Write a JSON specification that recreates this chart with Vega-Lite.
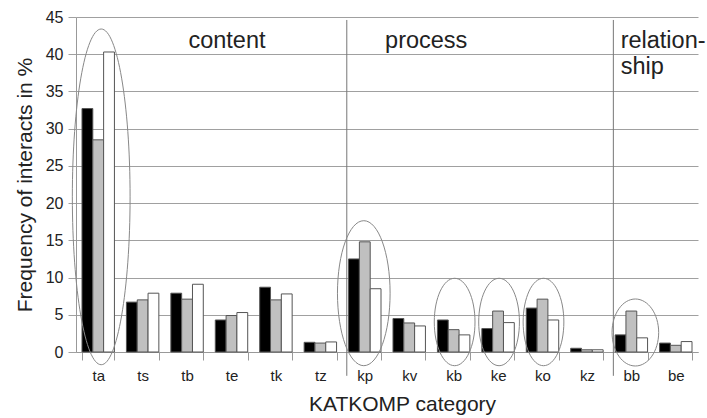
{
  "$schema": "https://vega.github.io/schema/vega-lite/v6.json",
  "autosize": "none",
  "width": 622,
  "height": 335,
  "padding": {"left": 76, "top": 17, "right": 9, "bottom": 66},
  "background": "white",
  "config": {
    "view": {"stroke": null},
    "font": "Liberation Sans",
    "axis": {"labelFont": "Liberation Sans", "titleFont": "Liberation Sans", "labelColor": "#222", "titleColor": "#222", "titleFontWeight": "normal"}
  },
  "datasets": {
    "bars": [
      {"cat": "ta", "group": "g1", "value": 32.7}, {"cat": "ta", "group": "g2", "value": 28.5}, {"cat": "ta", "group": "g3", "value": 40.3},
      {"cat": "ts", "group": "g1", "value": 6.7}, {"cat": "ts", "group": "g2", "value": 7.0}, {"cat": "ts", "group": "g3", "value": 7.9},
      {"cat": "tb", "group": "g1", "value": 7.9}, {"cat": "tb", "group": "g2", "value": 7.1}, {"cat": "tb", "group": "g3", "value": 9.1},
      {"cat": "te", "group": "g1", "value": 4.3}, {"cat": "te", "group": "g2", "value": 4.9}, {"cat": "te", "group": "g3", "value": 5.3},
      {"cat": "tk", "group": "g1", "value": 8.7}, {"cat": "tk", "group": "g2", "value": 7.0}, {"cat": "tk", "group": "g3", "value": 7.8},
      {"cat": "tz", "group": "g1", "value": 1.3}, {"cat": "tz", "group": "g2", "value": 1.2}, {"cat": "tz", "group": "g3", "value": 1.35},
      {"cat": "kp", "group": "g1", "value": 12.5}, {"cat": "kp", "group": "g2", "value": 14.8}, {"cat": "kp", "group": "g3", "value": 8.5},
      {"cat": "kv", "group": "g1", "value": 4.5}, {"cat": "kv", "group": "g2", "value": 3.9}, {"cat": "kv", "group": "g3", "value": 3.5},
      {"cat": "kb", "group": "g1", "value": 4.3}, {"cat": "kb", "group": "g2", "value": 3.0}, {"cat": "kb", "group": "g3", "value": 2.3},
      {"cat": "ke", "group": "g1", "value": 3.15}, {"cat": "ke", "group": "g2", "value": 5.5}, {"cat": "ke", "group": "g3", "value": 3.95},
      {"cat": "ko", "group": "g1", "value": 5.9}, {"cat": "ko", "group": "g2", "value": 7.1}, {"cat": "ko", "group": "g3", "value": 4.3},
      {"cat": "kz", "group": "g1", "value": 0.5}, {"cat": "kz", "group": "g2", "value": 0.3}, {"cat": "kz", "group": "g3", "value": 0.3},
      {"cat": "bb", "group": "g1", "value": 2.3}, {"cat": "bb", "group": "g2", "value": 5.5}, {"cat": "bb", "group": "g3", "value": 1.9},
      {"cat": "be", "group": "g1", "value": 1.2}, {"cat": "be", "group": "g2", "value": 0.9}, {"cat": "be", "group": "g3", "value": 1.4}
    ]
  },
  "encoding": {
    "x": {
      "field": "cat", "type": "nominal",
      "scale": {"domain": ["ta","ts","tb","te","tk","tz","kp","kv","kb","ke","ko","kz","bb","be"], "paddingInner": 0.27, "paddingOuter": 0.135},
      "axis": {
        "title": "KATKOMP category", "titleFontSize": 21, "titlePadding": 10, "titleX": 326,
        "labelAngle": 0, "labelFontSize": 15, "labelPadding": 8,
        "tickBand": "extent", "tickSize": 8, "tickColor": "#999999", "domainColor": "#999999",
        "grid": false
      }
    },
    "y": {
      "field": "value", "type": "quantitative",
      "scale": {"domain": [0, 45], "nice": false},
      "axis": {
        "title": "Frequency of interacts in %", "titleFontSize": 21, "titlePadding": 10,
        "values": [0,5,10,15,20,25,30,35,40,45],
        "labelFontSize": 16, "labelPadding": 5,
        "tickSize": 8, "tickColor": "#a0a0a0", "domainColor": "#999999",
        "grid": true, "gridColor": "#a0a0a0"
      }
    }
  },
  "layer": [
    {
      "data": {"name": "bars"},
      "mark": {"type": "bar", "stroke": "#555555", "strokeWidth": 1},
      "encoding": {
        "xOffset": {"field": "group", "type": "nominal", "scale": {"domain": ["g1","g2","g3"], "paddingInner": 0, "paddingOuter": 0}},
        "fill": {"field": "group", "type": "nominal", "scale": {"domain": ["g1","g2","g3"], "range": ["#000000", "#c0c0c0", "#ffffff"]}, "legend": null}
      }
    },
    {
      "data": {"values": [{"cat": "kp", "value": 44.6, "value2": -3.2}, {"cat": "bb", "value": 44.6, "value2": -3.2}]},
      "mark": {"type": "rule", "color": "#777777", "strokeWidth": 1, "xOffset": -18},
      "encoding": {
        "y2": {"field": "value2"}
      }
    },
    {
      "data": {"values": [{"cat": "ta", "value": 20.84}]},
      "mark": {"type": "point", "filled": false, "opacity": 1, "stroke": "#888888", "strokeWidth": 1, "size": 112700, "xOffset": 3,
        "shape": "M 0.172,0 C 0.172,0.5523 0.095,1 0,1 C -0.095,1 -0.172,0.5523 -0.172,0 C -0.172,-0.5523 -0.095,-1 0,-1 C 0.095,-1 0.172,-0.5523 0.172,0 Z"},
      "encoding": {}
    },
    {
      "data": {"values": [{"cat": "kp", "value": 7.9}]},
      "mark": {"type": "point", "filled": false, "opacity": 1, "stroke": "#888888", "strokeWidth": 1, "size": 21025, "xOffset": -1,
        "shape": "M 0.363,0 C 0.363,0.5523 0.2005,1 0,1 C -0.2005,1 -0.363,0.5523 -0.363,0 C -0.363,-0.5523 -0.2005,-1 0,-1 C 0.2005,-1 0.363,-0.5523 0.363,0 Z"},
      "encoding": {}
    },
    {
      "data": {"values": [{"cat": "kb", "value": 4.03}, {"cat": "ke", "value": 4.03}, {"cat": "ko", "value": 4.03}]},
      "mark": {"type": "point", "filled": false, "opacity": 1, "stroke": "#888888", "strokeWidth": 1, "size": 7640, "xOffset": 1,
        "shape": "M 0.466,0 C 0.466,0.5523 0.2574,1 0,1 C -0.2574,1 -0.466,0.5523 -0.466,0 C -0.466,-0.5523 -0.2574,-1 0,-1 C 0.2574,-1 0.466,-0.5523 0.466,0 Z"},
      "encoding": {}
    },
    {
      "data": {"values": [{"cat": "bb", "value": 2.62}]},
      "mark": {"type": "point", "filled": false, "opacity": 1, "stroke": "#888888", "strokeWidth": 1, "size": 4489, "xOffset": 4,
        "shape": "M 0.696,0 C 0.696,0.5523 0.3844,1 0,1 C -0.3844,1 -0.696,0.5523 -0.696,0 C -0.696,-0.5523 -0.3844,-1 0,-1 C 0.3844,-1 0.696,-0.5523 0.696,0 Z"},
      "encoding": {}
    },
    {
      "data": {"values": [{"cat": "te", "label": "content", "value": 40.9}]},
      "mark": {"type": "text", "fontSize": 23.5, "color": "#222", "baseline": "alphabetic", "align": "center", "dx": -4.5},
      "encoding": {"text": {"field": "label"}}
    },
    {
      "data": {"values": [{"cat": "kv", "label": "process", "value": 40.9}]},
      "mark": {"type": "text", "fontSize": 23.5, "color": "#222", "baseline": "alphabetic", "align": "center", "dx": 17},
      "encoding": {"text": {"field": "label"}}
    },
    {
      "data": {"values": [{"cat": "bb", "label": "relation-", "value": 40.9}, {"cat": "bb", "label": "ship", "value": 37.4}]},
      "mark": {"type": "text", "fontSize": 23.5, "color": "#222", "baseline": "alphabetic", "align": "left", "dx": -10.7},
      "encoding": {"text": {"field": "label"}}
    }
  ]
}
